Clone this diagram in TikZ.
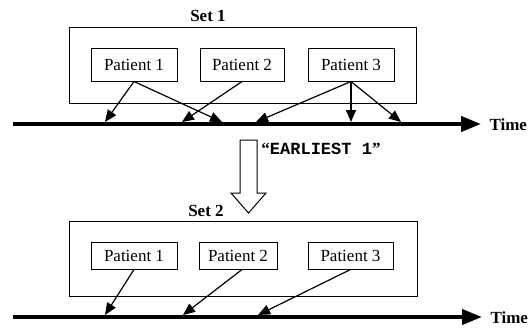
\documentclass[tikz,border=0pt]{standalone}
\usepackage{fontspec}
\setmainfont{Liberation Serif}
\setmonofont{Liberation Mono}
\usetikzlibrary{arrows.meta, positioning}

\begin{document}
\begin{tikzpicture}[x=1pt, y=-1pt,
    every node/.style={font=\fontsize{17}{20}\selectfont},
    patient/.style={draw, line width=1pt, inner sep=0pt, minimum width=86pt, minimum height=33pt},
    setbox/.style={draw, line width=1pt, inner sep=0pt},
    title/.style={font=\fontsize{17}{20}\selectfont\bfseries},
    event/.style={-{Triangle[length=12pt, width=10pt]}, line width=1.2pt},
    timeline/.style={-{Triangle[length=20pt, width=15pt]}, line width=4pt}]
    \useasboundingbox (0,0) rectangle (532,327);

    % Set 1 with its patients
    \node[setbox, minimum width=347pt, minimum height=76pt] (set1) at (242.5,65) {};
    \node[title] (set1lab) at (208,16) {Set 1};
    \node[patient] (a1) at (134,64.5) {Patient 1};
    \node[patient, minimum width=84pt] (a2) at (242,64.5) {Patient 2};
    \node[patient] (a3) at (351,64.5) {Patient 3};

    % first time line
    \coordinate (s1) at (13,124);
    \coordinate (e1) at (481,124);
    \draw[timeline] (s1) -- (e1);
    \node[title, anchor=west] (time1) at (486,125) {Time};

    % events of set 1
    \coordinate (u1) at (105,122);
    \coordinate (u2) at (182,122);
    \coordinate (u3) at (222,122);
    \coordinate (u4) at (256,122);
    \coordinate (u5) at (351,122);
    \coordinate (u6) at (401,122);
    \draw[event] (a1.south) -- (u1);
    \draw[event] (a1.south) -- (u3);
    \draw[event] (a2.south) -- (u2);
    \draw[event] (a3.south) -- (u4);
    \draw[event] (a3.south) -- (u5);
    \draw[event] (a3.south) -- (u6);

    % hollow arrow
    \draw[line width=1pt, fill=white] (240,140) -- (257,140) -- (257,193) -- (266,193)
        -- (248.5,213) -- (231,193) -- (240,193) -- cycle;
    \node (rule) at (321,149) {\bfseries ``\texttt{EARLIEST 1}''};

    % Set 2 with its patients
    \node[setbox, minimum width=348pt, minimum height=75pt] (set2) at (243,258.5) {};
    \node[title] (set2lab) at (206,211) {Set 2};
    \node[patient, minimum height=27pt] (b1) at (134,255.5) {Patient 1};
    \node[patient, minimum height=27pt, minimum width=78pt] (b2) at (238,255.5) {Patient 2};
    \node[patient, minimum height=27pt, minimum width=85pt] (b3) at (350.5,255.5) {Patient 3};

    % second time line
    \coordinate (s2) at (13,317);
    \coordinate (e2) at (482,317);
    \draw[timeline] (s2) -- (e2);
    \node[title, anchor=west] (time2) at (487,318) {Time};

    % events of set 2
    \coordinate (v1) at (105,315);
    \coordinate (v2) at (183,315);
    \coordinate (v3) at (258,315);
    \draw[event] (b1.south) -- (v1);
    \draw[event] ([xshift=4pt]b2.south) -- (v2);
    \draw[event] (b3.south) -- (v3);
\end{tikzpicture}
\end{document}
